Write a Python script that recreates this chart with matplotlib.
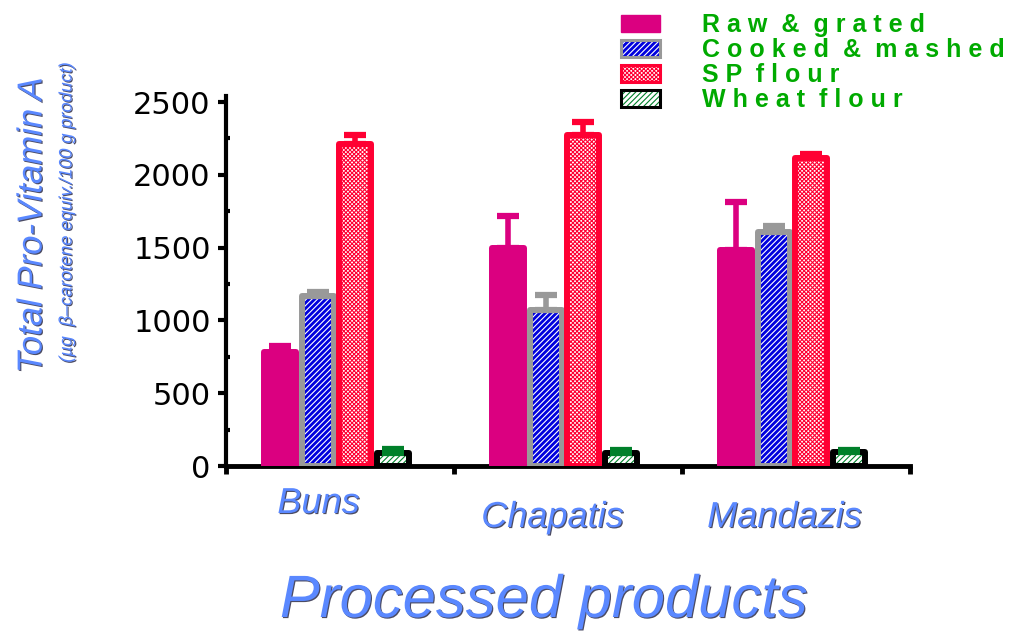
import matplotlib
matplotlib.use("Agg")
import matplotlib.pyplot as plt
import matplotlib.patheffects as pe
import numpy as np
from matplotlib.patches import Rectangle

products = ["Buns", "Chapatis", "Mandazis"]
series = ["Raw & grated", "Cooked & mashed", "SP flour", "Wheat flour"]

raw_grated = [783, 1497, 1481]
raw_grated_err = [41, 223, 329]
cooked_mashed = [1168, 1073, 1607]
cooked_mashed_err = [30, 103, 43]
sp_flour = [2213, 2271, 2115]
sp_flour_err = [60, 94, 28]
wheat_flour = [89, 89, 94]
wheat_flour_err = [28, 18, 16]

values = [raw_grated, cooked_mashed, sp_flour, wheat_flour]
errors = [raw_grated_err, cooked_mashed_err, sp_flour_err, wheat_flour_err]

# face, hatch, hatch colour, edge colour, error colour
styles = [
    ("#DB0080", None, None, "#DB0080", "#DB0080"),
    ("#0000DD", "//////", "white", "#999999", "#999999"),
    ("white", "xxxxxxxx", "#FF0033", "#FF0033", "#FF0033"),
    ("white", "//////", "#00802A", "black", "#00802A"),
]

plt.rcParams["font.family"] = ["Liberation Sans", "DejaVu Sans"]
plt.rcParams["hatch.linewidth"] = 0.8

blue = "#5A88FF"
shadow = [pe.SimplePatchShadow(offset=(0.8, -0.8), shadow_rgbFace="#101030", alpha=0.75), pe.Normal()]


def spread(text):
    # wide letter spacing like the original legend
    return "  ".join(" ".join(word) for word in text.split(" "))


fig = plt.figure(figsize=(10.1, 6.37), dpi=100)
ax = fig.add_axes([226 / 1010, 1 - 466 / 637, (910 - 226) / 1010, (466 - 102) / 637])

x = np.arange(len(products)) + 0.485
step = 0.165
width = 0.14
lw = 4.3

for i, (vals, errs, st) in enumerate(zip(values, errors, styles)):
    face, hatch, hcol, ecol, errcol = st
    pos = x + (i - 1.5) * step
    z = 3 + i
    if hatch:
        ax.bar(pos, vals, width, color=face, hatch=hatch, edgecolor=hcol, linewidth=0, zorder=z)
    else:
        ax.bar(pos, vals, width, color=face, linewidth=0, zorder=z)
    bars = ax.bar(pos, vals, width, fill=False, edgecolor=ecol, linewidth=lw, zorder=z)
    for b in bars:
        b.set_joinstyle("round")
    ax.errorbar(pos, vals, yerr=[np.zeros(len(errs)), errs], fmt="none", ecolor=errcol,
                elinewidth=4, capsize=8, capthick=4.5, zorder=z)

ax.set_xlim(0, 3)
ax.set_ylim(0, 2500)
for s in ["top", "right"]:
    ax.spines[s].set_visible(False)
ax.spines["left"].set_linewidth(3)
ax.spines["bottom"].set_linewidth(3.5)
ax.spines["left"].set_bounds(0, 2540)

ax.set_yticks(np.arange(0, 2501, 500))
ax.set_yticks(np.arange(250, 2500, 500), minor=True)
ax.set_xticks(np.arange(0, 4))
ax.set_xticklabels([])
ax.tick_params(axis="y", which="major", direction="out", length=6, width=3, pad=5,
               labelsize=22, labelfontfamily="DejaVu Sans")
ax.tick_params(axis="y", which="minor", direction="in", length=3, width=3)
ax.tick_params(axis="x", which="major", direction="out", length=6, width=3.5)

# category labels, nudged the way they sit in the original
label_offsets = [(-18, -47), (-12, -61), (-8, -61)]
for xi, name, off in zip(x, products, label_offsets):
    ax.annotate(name, xy=(xi, 0), xycoords="data", xytext=off, textcoords="offset pixels",
                ha="center", va="baseline", fontsize=26, style="italic", color=blue,
                path_effects=shadow)

fig.text(544 / 1010, 1 - 617 / 637, "Processed products", ha="center", va="baseline",
         fontsize=43, style="italic", color=blue, path_effects=shadow)
fig.text(32 / 1010, 1 - 225 / 637, "Total Pro-Vitamin A", rotation=90, ha="center", va="center",
         fontsize=25, style="italic", color=blue, path_effects=shadow)
fig.text(67 / 1010, 1 - 213 / 637, "(\u00b5g  \u03b2\u2013carotene equiv./100 g product)",
         rotation=90, ha="center", va="center", fontsize=13, style="italic", color=blue,
         path_effects=shadow)

# legend, drawn by hand to keep the tight row spacing
for i, (name, st) in enumerate(zip(series, styles)):
    face, hatch, hcol, ecol, errcol = st
    top = 14 + i * 25
    rx, ry = 621 / 1010, 1 - (top + 18) / 637
    rw, rh = 39 / 1010, 17 / 637
    if hatch:
        fig.add_artist(Rectangle((rx, ry), rw, rh, transform=fig.transFigure, facecolor=face,
                                 hatch=hatch, edgecolor=hcol, linewidth=0))
        fig.add_artist(Rectangle((rx, ry), rw, rh, transform=fig.transFigure, fill=False,
                                 edgecolor=ecol, linewidth=2.2))
    else:
        fig.add_artist(Rectangle((rx, ry), rw, rh, transform=fig.transFigure, facecolor=face,
                                 edgecolor=ecol, linewidth=1))
    fig.text(702 / 1010, 1 - (top + 18) / 637, spread(name), ha="left", va="baseline",
             fontsize=18, fontweight="bold", color="#00AA00")

fig.savefig("out.png", dpi=100)
